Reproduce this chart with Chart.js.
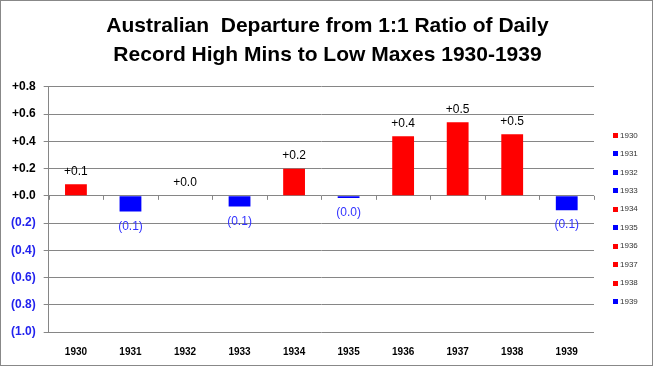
<!DOCTYPE html>
<html>
<head>
<meta charset="utf-8">
<script src="https://cdn.jsdelivr.net/npm/chart.js@4/dist/chart.umd.min.js"></script>
<style>
  html, body { margin: 0; padding: 0; background: #fff; }
  #wrap { position: absolute; left: 0; top: 0; width: 653px; height: 366px; box-sizing: border-box; border: 1px solid #888; }
  #myChart { display: block; }
</style>
</head>
<body>
<div id="wrap"><canvas id="myChart" width="651" height="364"></canvas></div>
<script>
// data
const years = ['1930', '1931', '1932', '1933', '1934', '1935', '1936', '1937', '1938', '1939'];
const departure = [0.085, -0.115, 0.0, -0.078, 0.20, -0.015, 0.438, 0.54, 0.452, -0.105];
const yTicks = [0.8, 0.6, 0.4, 0.2, 0.0, -0.2, -0.4, -0.6, -0.8, -1.0];

const RED = '#ff0000';
const BLUE = '#0000ff';
const barColors = departure.map(v => v > 0 ? RED : BLUE);
const FONT = '"Liberation Sans", Arial, sans-serif';

function fmt(v) {
    if (Math.abs(v) < 1e-9) return '+0.0';
    return v > 0 ? '+' + v.toFixed(1) : '(' + Math.abs(v).toFixed(1) + ')';
}

// value labels above / below bars
const valueLabels = {
    id: 'valueLabels',
    afterDatasetsDraw(chart) {
        const ctx = chart.ctx;
        const meta = chart.getDatasetMeta(0);
        ctx.save();
        ctx.font = '12px ' + FONT;
        ctx.textAlign = 'center';
        ctx.textBaseline = 'middle';
        meta.data.forEach((bar, i) => {
            const v = departure[i];
            if (v >= 0) {
                ctx.fillStyle = '#000';
                ctx.fillText(fmt(v), bar.x, bar.y - 13);
            } else {
                ctx.fillStyle = '#3333ff';
                ctx.fillText(fmt(v), bar.x, bar.y + 15);
            }
        });
        ctx.restore();
    }
};

// small tick marks on the zero line between categories
const zeroTicks = {
    id: 'zeroTicks',
    afterDraw(chart) {
        const ctx = chart.ctx;
        const x = chart.scales.x;
        const y0 = chart.scales.y.getPixelForValue(0);
        const area = chart.chartArea;
        ctx.save();
        ctx.strokeStyle = '#868686';
        ctx.lineWidth = 1;
        ctx.beginPath();
        for (let i = 0; i <= years.length; i++) {
            let px;
            if (i === 0) px = area.left;
            else if (i === years.length) px = area.right;
            else px = (x.getPixelForValue(i - 1) + x.getPixelForValue(i)) / 2;
            px = Math.round(px) + 0.5;
            ctx.moveTo(px, y0);
            ctx.lineTo(px, y0 + 4);
        }
        ctx.stroke();
        ctx.restore();
    }
};

// one legend entry per year, stacked at the right like the Excel original
const yearLegend = {
    id: 'yearLegend',
    afterDraw(chart) {
        const ctx = chart.ctx;
        const area = chart.chartArea;
        const step = 18.45;
        const mid = (area.top + area.bottom) / 2 + 9;
        const y0 = mid - step * (years.length - 1) / 2;
        const bx = area.right + 19;
        ctx.save();
        ctx.font = '8px ' + FONT;
        ctx.textBaseline = 'middle';
        ctx.textAlign = 'left';
        years.forEach((yr, i) => {
            const cy = y0 + i * step;
            ctx.fillStyle = barColors[i];
            ctx.fillRect(bx, Math.round(cy - 2.5), 5, 5);
            ctx.fillStyle = '#333';
            ctx.fillText(yr, bx + 7, cy);
        });
        ctx.restore();
    }
};

const ctx = document.getElementById('myChart').getContext('2d');
const myChart = new Chart(ctx, {
    type: 'bar',
    data: {
        labels: years,
        datasets: [{
            label: 'Departure',
            data: departure,
            backgroundColor: barColors,
            barPercentage: 0.4,
            categoryPercentage: 1.0
        }]
    },
    options: {
        responsive: false,
        animation: false,
        devicePixelRatio: 1,
        layout: { padding: { left: 2, right: 0, top: 6, bottom: 1 } },
        scales: {
            x: {
                grid: { display: false },
                border: { display: false },
                ticks: {
                    color: '#000',
                    maxRotation: 0,
                    font: { family: FONT, size: 10, weight: 'bold' },
                    padding: 6
                }
            },
            y: {
                min: -1.0,
                max: 0.8,
                afterBuildTicks(axis) {
                    axis.ticks = yTicks.map(v => ({ value: v }));
                },
                grid: { color: '#868686', lineWidth: 1, tickLength: 5 },
                border: { color: '#868686' },
                ticks: {
                    callback: v => fmt(v),
                    color: c => c.tick && c.tick.value < -1e-9 ? '#2222ee' : '#000',
                    font: { family: FONT, size: 12, weight: 'bold' },
                    padding: 8
                }
            },
            // empty right-hand axis that only reserves room for the legend column
            legendSpace: {
                type: 'linear',
                position: 'right',
                min: 0,
                max: 1,
                grid: { display: false },
                border: { display: false },
                ticks: { display: false },
                afterFit(axis) { axis.width = 58; }
            }
        },
        plugins: {
            title: {
                display: true,
                text: ['Australian  Departure from 1:1 Ratio of Daily', 'Record High Mins to Low Maxes 1930-1939'],
                color: '#000',
                font: { family: FONT, size: 21, weight: 'bold', lineHeight: 1.38 },
                padding: { top: 5, bottom: 17 }
            },
            legend: { display: false },
            tooltip: { enabled: false }
        }
    },
    plugins: [valueLabels, zeroTicks, yearLegend]
});
</script>
</body>
</html>
